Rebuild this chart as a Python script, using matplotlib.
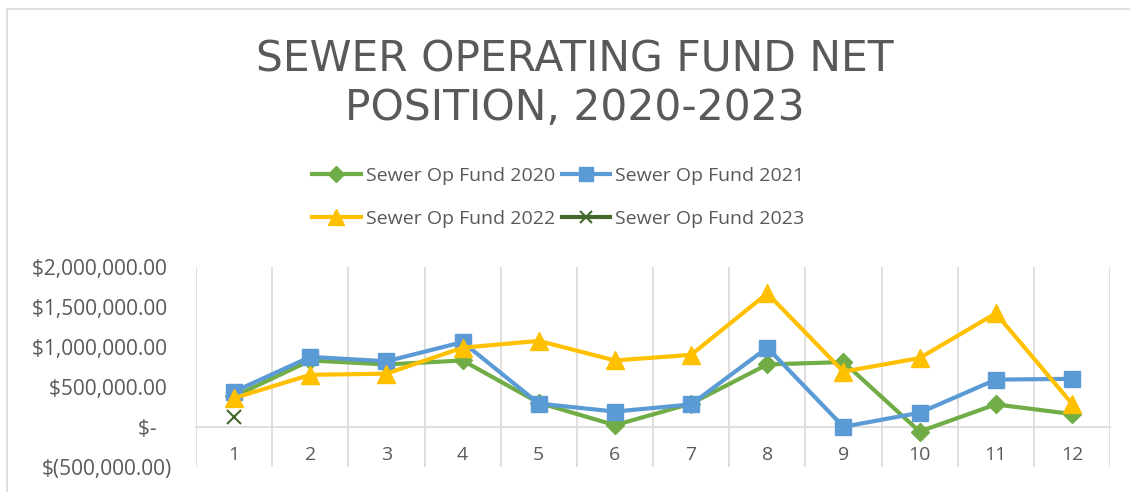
import matplotlib.pyplot as plt
from matplotlib.patches import Rectangle
from matplotlib.ticker import FuncFormatter

months = [1, 2, 3, 4, 5, 6, 7, 8, 9, 10, 11, 12]
fund_2020 = [380000, 830000, 780000, 830000, 300000, 20000, 290000, 780000, 810000, -60000, 280000, 160000]
fund_2021 = [440000, 875000, 820000, 1060000, 290000, 190000, 280000, 990000, 0, 175000, 590000, 600000]
fund_2022 = [360000, 650000, 665000, 990000, 1075000, 830000, 900000, 1670000, 690000, 860000, 1420000, 290000]
fund_2023 = [125000]

series_labels = ['Sewer Op Fund 2020', 'Sewer Op Fund 2021',
                 'Sewer Op Fund 2022', 'Sewer Op Fund 2023']

text_color = '#595959'
grid_color = '#D9D9D9'
font = 'Open Sans'


def money(v, pos):
    if v == 0:
        return '$-   '
    if v < 0:
        return '$({:,.2f})'.format(-v)
    return '${:,.2f} '.format(v)


fig = plt.figure(figsize=(11.3, 4.92), dpi=100)
ax = fig.add_axes([0.1735, 0.0514, 0.8088, 0.4059])

l1, = ax.plot(months, fund_2020, color='#70AD47', lw=3, marker='D', ms=9,
              label=series_labels[0], zorder=3)
l2, = ax.plot(months, fund_2021, color='#5B9BD5', lw=3, marker='s', ms=12,
              label=series_labels[1], zorder=4)
l3, = ax.plot(months, fund_2022, color='#FFC000', lw=3, marker='^', ms=13,
              label=series_labels[2], zorder=5)
l4, = ax.plot(months[:len(fund_2023)], fund_2023, color='#43682B', lw=3,
              marker='x', ms=10, mew=1.5, label=series_labels[3], zorder=6)

ax.set_xlim(0.5, 12.5)
ax.set_ylim(-500000, 2000000)
ax.set_yticks([-500000, 0, 500000, 1000000, 1500000, 2000000])
ax.yaxis.set_major_formatter(FuncFormatter(money))
ax.set_xticks(months)
ax.set_xticklabels([str(m) for m in months])

# category separators
for b in range(len(months) + 1):
    ax.axvline(b + 0.5, color=grid_color, lw=1.2, zorder=1)

for s in ['top', 'right', 'left']:
    ax.spines[s].set_visible(False)
ax.spines['bottom'].set_position(('data', 0))
ax.spines['bottom'].set_color(grid_color)
ax.spines['bottom'].set_linewidth(1.2)
ax.spines['bottom'].set_zorder(1)

ax.tick_params(axis='y', length=0, pad=17, labelsize=15, labelcolor=text_color)
ax.tick_params(axis='x', length=0, pad=14, labelsize=14, labelcolor=text_color)
for lab in ax.get_xticklabels() + ax.get_yticklabels():
    lab.set_fontfamily(font)

fig.text(0.509, 0.922, 'SEWER OPERATING FUND NET\nPOSITION, 2020-2023',
         ha='center', va='top', fontsize=30.5, color=text_color,
         linespacing=1.2, fontfamily='DejaVu Sans')

# legend fills column-wise, so order gives rows 2020/2021 and 2022/2023
fig.legend(handles=[l1, l3, l2, l4], ncol=2, loc='center',
           bbox_to_anchor=(0.494, 0.599), frameon=False,
           prop={'family': font, 'size': 14}, labelcolor=text_color,
           handlelength=2.5, handletextpad=0.25, columnspacing=0.35,
           labelspacing=1.3, markerscale=0.85)

# chart area border
fig.add_artist(Rectangle((7 / 1130, -0.1), 1.2, 1.1 - 9 / 492,
                         transform=fig.transFigure, fill=False,
                         edgecolor=grid_color, lw=1.2))

fig.savefig('out.png', dpi=100)
